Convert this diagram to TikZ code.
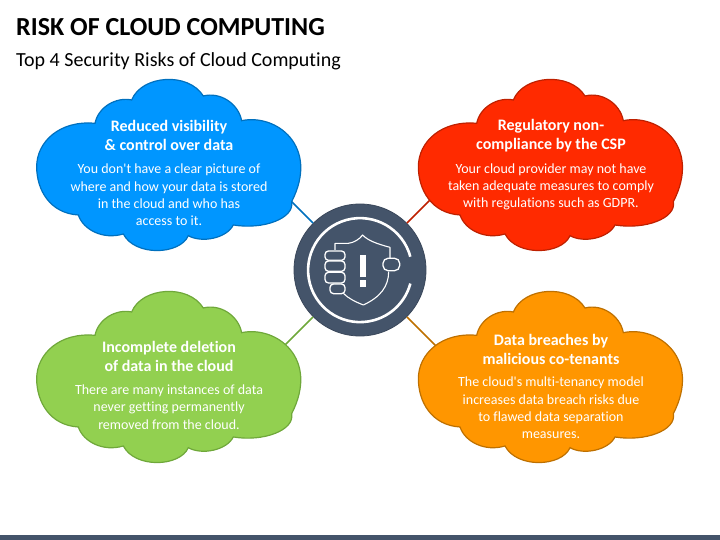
\documentclass[tikz,border=0pt]{standalone}
\usepackage{fontspec}
\setmainfont{Carlito}[Ligatures={CommonOff,TeXOff}]
\usetikzlibrary{calc}
\definecolor{hubc}{HTML}{44546A}
\definecolor{bluef}{HTML}{0096FF}\definecolor{blued}{HTML}{0070BE}
\definecolor{redf}{HTML}{FF2A00}\definecolor{redd}{HTML}{BE2000}
\definecolor{greenf}{HTML}{92D050}\definecolor{greend}{HTML}{6FA83A}
\definecolor{orangef}{HTML}{FF9600}\definecolor{oranged}{HTML}{BE7000}
\tikzset{
  x=1pt,y=-1pt,
  cloudshape/.pic={
    \path[pic actions,line width=1.2pt,shift={(-149.5,-96)},x=0.3333pt,y=-0.3333pt] (50,290)
      .. controls (50,215) and (120,150) .. (225,160)
      .. controls (235,110) and (290,80) .. (335,90)
      .. controls (365,15) and (505,5) .. (550,78)
      .. controls (600,65) and (655,100) .. (665,152)
      .. controls (770,130) and (900,230) .. (815,395)
      .. controls (825,445) and (730,480) .. (640,465)
      .. controls (620,505) and (545,520) .. (505,497)
      .. controls (480,555) and (345,560) .. (310,492)
      .. controls (250,510) and (190,480) .. (175,435)
      .. controls (90,430) and (50,360) .. (50,290) -- cycle;
  },
  ttl/.style={font=\bfseries\fontsize{16}{19}\selectfont,text=white,align=center,inner sep=0pt},
  bdy/.style={font=\fontsize{14}{17.3}\selectfont,text=white,align=center,inner sep=0pt},
  lnk/.style={line width=1.5pt},
  iconw/.style={draw=white,line width=1.3pt,fill=hubc,rounded corners=3.5pt},
}
\begin{document}
\begin{tikzpicture}
\useasboundingbox (0,0) rectangle (720,540);
\fill[hubc] (0,535) rectangle (720,540);
\node[anchor=base west,inner sep=0pt,font=\bfseries\fontsize{26}{30}\selectfont] (title) at (16,36) {RISK OF CLOUD COMPUTING};
\node[anchor=base west,inner sep=0pt,font=\fontsize{20}{24}\selectfont] (subtitle) at (16,66.5) {Top 4 Security Risks of Cloud Computing};
% hub
\node[circle,fill=hubc,draw=hubc!85!black,line width=0.8pt,minimum size=132pt,inner sep=0pt] (hub) at (360,270) {};
% connector ends, hidden under the clouds
\coordinate (a1) at (285,195);
\coordinate (a2) at (435,195);
\coordinate (a3) at (280,350);
\coordinate (a4) at (440,350);
\draw[lnk,blued] (hub) -- (a1);
\draw[lnk,redd] (hub) -- (a2);
\draw[lnk,greend] (hub) -- (a3);
\draw[lnk,oranged] (hub) -- (a4);
% clouds
\pic[fill=bluef,draw=blued] at (169.5,166) {cloudshape};
\pic[fill=redf,draw=redd] at (551.2,166) {cloudshape};
\pic[fill=greenf,draw=greend] at (169.5,378) {cloudshape};
\pic[fill=orangef,draw=oranged] at (551.2,378) {cloudshape};
\node[ttl] (t1) at (169,135.5) {Reduced visibility\\\& control over data};
\node[bdy] (b1) at (169,195) {You don't have a clear picture of\\where and how your data is stored\\in the cloud and who has\\access to it.};
\node[ttl] (t2) at (551,135.5) {Regulatory non-\\compliance by the CSP};
\node[bdy] (b2) at (551,187) {Your cloud provider may not have\\taken adequate measures to comply\\with regulations such as GDPR.};
\node[ttl] (t3) at (169,356) {Incomplete deletion\\of data in the cloud};
\node[bdy] (b3) at (169,407) {There are many instances of data\\never getting permanently\\removed from the cloud.};
\node[ttl] (t4) at (551,349) {Data breaches by\\malicious co-tenants};
\node[bdy] (b4) at (551,408) {The cloud's multi-tenancy model\\increases data breach risks due\\to flawed data separation\\measures.};
% icon
\begin{scope}[shift={(280,190)},x=0.3333pt,y=-0.3333pt]
\draw[white,line width=2.6pt] (391,200) arc[start angle=-15,end angle=-345,radius=156];
\draw[white,line width=1.1pt,line join=round]
  (165,180) -- (165,160) -- (205,160) .. controls (222,158) and (238,148) .. (248,135)
  .. controls (262,150) and (285,160) .. (330,172) -- (330,205);
\draw[white,line width=1.1pt,line join=round]
  (326,245) .. controls (326,290) and (300,322) .. (250,345) .. controls (225,335) and (205,325) .. (190,310);
\fill[white] (240,195) rectangle (258,260);
\fill[white] (240,270) rectangle (258,291);
\draw[iconw] (135,183) rectangle (195,211);
\draw[iconw] (135,213) rectangle (195,244);
\draw[iconw] (135,247) rectangle (195,279);
\draw[iconw] (150,282) rectangle (195,311);
\draw[iconw,rounded corners=5pt] (309,205) rectangle (359,242);
\end{scope}
\end{tikzpicture}
\end{document}
